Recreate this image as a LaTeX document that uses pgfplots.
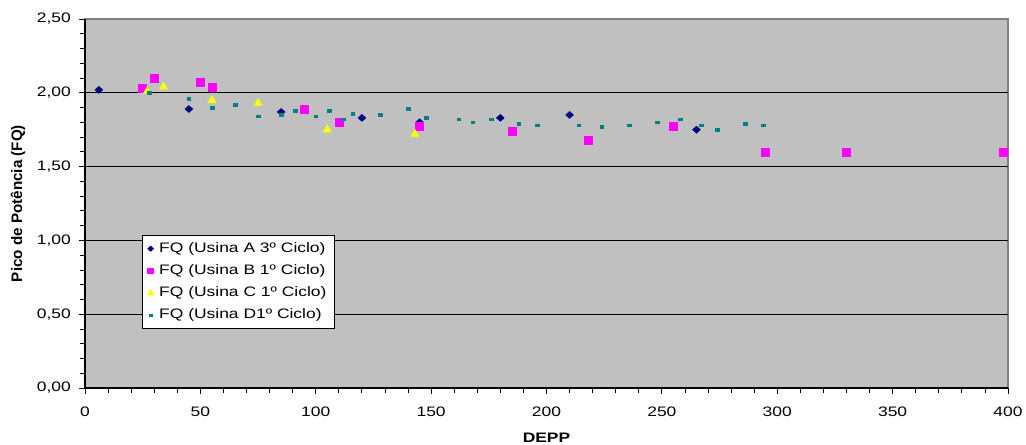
\documentclass[border=0pt]{standalone}
\usepackage{fontspec}
\setmainfont{Liberation Sans}[FakeStretch=1.27]
\newfontfamily\ylabfont{Liberation Sans}
\usepackage{pgfplots}
\pgfplotsset{compat=1.18}
\definecolor{bgray}{HTML}{C0C0C0}
\definecolor{frgray}{HTML}{808080}
\definecolor{navyA}{HTML}{000080}
\definecolor{magB}{HTML}{FF00FF}
\definecolor{yelC}{HTML}{FFFF00}
\definecolor{tealD}{HTML}{008080}
\begin{document}
\begin{tikzpicture}[x=1pt,y=1pt]
\useasboundingbox (-63.75,-42.75) rectangle (705.75,291);
\begin{axis}[
 at={(0,0)}, anchor=south west,
 scale only axis, width=692.25pt, height=276.75pt,
 xmin=0, xmax=400, ymin=0, ymax=2.5,
 axis x line=bottom, axis y line=left,
 axis line style={-, black, line width=0.9pt},
 axis background/.style={fill=bgray, draw=frgray, line width=1pt},
 xtick={0,50,...,400}, ytick={0,0.5,...,2.5},
 minor x tick num=4, minor y tick num=4,
 tick align=outside,
 major tick length=4.5pt, minor tick length=3.75pt,
 tick style={black, line width=0.6pt},
 extra y ticks={0.5,1,1.5,2},
 extra y tick labels={},
 extra y tick style={ymajorgrids=true, major tick length=0pt},
 major grid style={black, line width=0.6pt},
 /pgf/number format/assume math mode=true,
 ticklabel style={font=\fontsize{10.3}{12}\selectfont},
 yticklabel style={xshift=-2.6pt, /pgf/number format/.cd, fixed, fixed zerofill, precision=2, use comma},
 xticklabel style={yshift=-6.5pt},
 every axis x label/.style={at={(axis description cs:0.5,-0.136)}, anchor=center},
 every axis y label/.style={at={(axis description cs:-0.0726,0.5)}, anchor=center, rotate=90},
 xlabel={\fontsize{10.3}{12}\selectfont\bfseries DEPP},
 ylabel={\ylabfont\fontsize{11.4}{13}\selectfont\bfseries Pico de Potência (FQ)},
 legend style={at={(0.0614,0.4146)}, anchor=north west, draw=black, line width=0.6pt,
   fill=white, font=\fontsize{10.3}{12}\selectfont, row sep=3.6pt,
   inner xsep=4.25pt, inner ysep=3.5pt,
   /tikz/every odd column/.append style={column sep=2.25pt}},
 legend image post style={/tikz/every mark/.append style={scale=0.72}},
 legend cell align=left,
]
\addplot[only marks, mark=diamond*, mark size=2.6pt, color=navyA, mark options={draw=navyA, fill=navyA, xscale=1.5}]
 coordinates {(6,2.02) (45,1.89) (85,1.87) (120,1.83) (145,1.80) (180,1.83) (210,1.85) (265,1.75)};
\addlegendentry{FQ (Usina A 3º Ciclo)}
\addplot[only marks, mark=square*, mark size=3pt, color=magB, mark options={draw=magB, fill=magB}]
 coordinates {(25,2.03) (30,2.10) (50,2.07) (55,2.04) (95,1.89) (110,1.80) (145,1.77) (185,1.74) (218,1.68) (255,1.77) (295,1.60) (330,1.60) (398,1.60)};
\addlegendentry{FQ (Usina B 1º Ciclo)}
\addplot[only marks, mark=triangle*, mark size=3.5pt, color=yelC, mark options={draw=yelC, fill=yelC}]
 coordinates {(27,2.01) (34,2.04) (55,1.95) (75,1.93) (105,1.75) (143,1.72)};
\addlegendentry{FQ (Usina C 1º Ciclo)}
\addplot[only marks, mark=square*, mark size=1pt, color=tealD, mark options={draw=tealD, fill=tealD, xscale=1.4}]
 coordinates {(28,2.00) (45,1.96) (55,1.90) (65,1.92) (75,1.84) (85,1.85) (91,1.88) (100,1.84) (106,1.88) (112,1.82) (116,1.86) (128,1.85) (140,1.89) (148,1.83) (162,1.82) (168,1.80) (176,1.82) (188,1.79) (196,1.78) (214,1.78) (224,1.77) (236,1.78) (248,1.80) (258,1.82) (267,1.78) (274,1.75) (286,1.79) (294,1.78)};
\addlegendentry{FQ (Usina D1º Ciclo)}
\end{axis}
\end{tikzpicture}
\end{document}
